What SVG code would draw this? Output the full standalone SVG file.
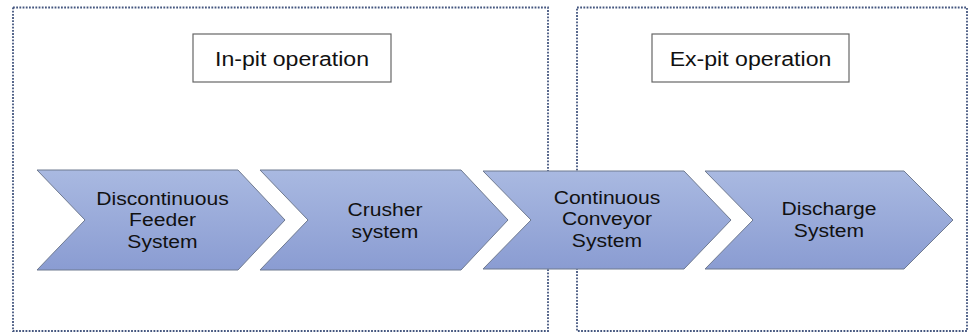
<svg xmlns="http://www.w3.org/2000/svg" width="971" height="333" viewBox="0 0 971 333">
<defs>
<linearGradient id="g" x1="0" y1="0" x2="0" y2="1">
<stop offset="0" stop-color="#a9b9e1"/>
<stop offset="1" stop-color="#8a9cd2"/>
</linearGradient>
<style>
.zone{fill:none;stroke:#44567f;stroke-width:1.8;stroke-dasharray:1.8 1.4}
.title rect{fill:#fff;stroke:#666;stroke-width:1.2}
.title text{font-family:"Liberation Sans",Arial,sans-serif;font-size:21px;fill:#111;text-anchor:middle}
.chev path{fill:url(#g);stroke:#6f7a90;stroke-width:1}
.chev text{font-family:"Liberation Sans",Arial,sans-serif;font-size:19px;fill:#111;text-anchor:middle}
</style>
</defs>
<rect width="971" height="333" fill="#fff"/>
<g id="zones">
<rect class="zone" x="13" y="7.5" width="535" height="323.5"/>
<rect class="zone" x="577" y="7.5" width="390" height="323.5"/>
</g>
<g id="title-inpit" class="title">
<rect x="193" y="34" width="198" height="48"/>
<text transform="translate(292 0) scale(1.1 1)" x="0" y="66.5">In-pit operation</text>
</g>
<g id="title-expit" class="title">
<rect x="652" y="34" width="197" height="48"/>
<text transform="translate(750.5 0) scale(1.1 1)" x="0" y="66.5">Ex-pit operation</text>
</g>
<g id="connectors"></g>
<g id="n1" class="chev">
<path d="M37,170 L238,170 L285,220 L238,270 L37,270 L85,220 Z"/>
<g transform="translate(162.5 0) scale(1.11 1)">
<text x="0" y="205">Discontinuous</text>
<text x="0" y="226.5">Feeder</text>
<text x="0" y="248">System</text>
</g>
</g>
<g id="n2" class="chev">
<path d="M260,170 L461,170 L508,220 L461,270 L260,270 L308,220 Z"/>
<g transform="translate(385 0) scale(1.11 1)">
<text x="0" y="216.5">Crusher</text>
<text x="0" y="238">system</text>
</g>
</g>
<g id="n3" class="chev">
<path d="M483,171 L684,171 L731,220 L684,269 L483,269 L531,220 Z"/>
<g transform="translate(607 0) scale(1.11 1)">
<text x="0" y="204">Continuous</text>
<text x="0" y="225.5">Conveyor</text>
<text x="0" y="247">System</text>
</g>
</g>
<g id="n4" class="chev">
<path d="M705,171 L904,171 L953,220 L904,269 L705,269 L753,220 Z"/>
<g transform="translate(829 0) scale(1.11 1)">
<text x="0" y="215.5">Discharge</text>
<text x="0" y="237">System</text>
</g>
</g>
</svg>
